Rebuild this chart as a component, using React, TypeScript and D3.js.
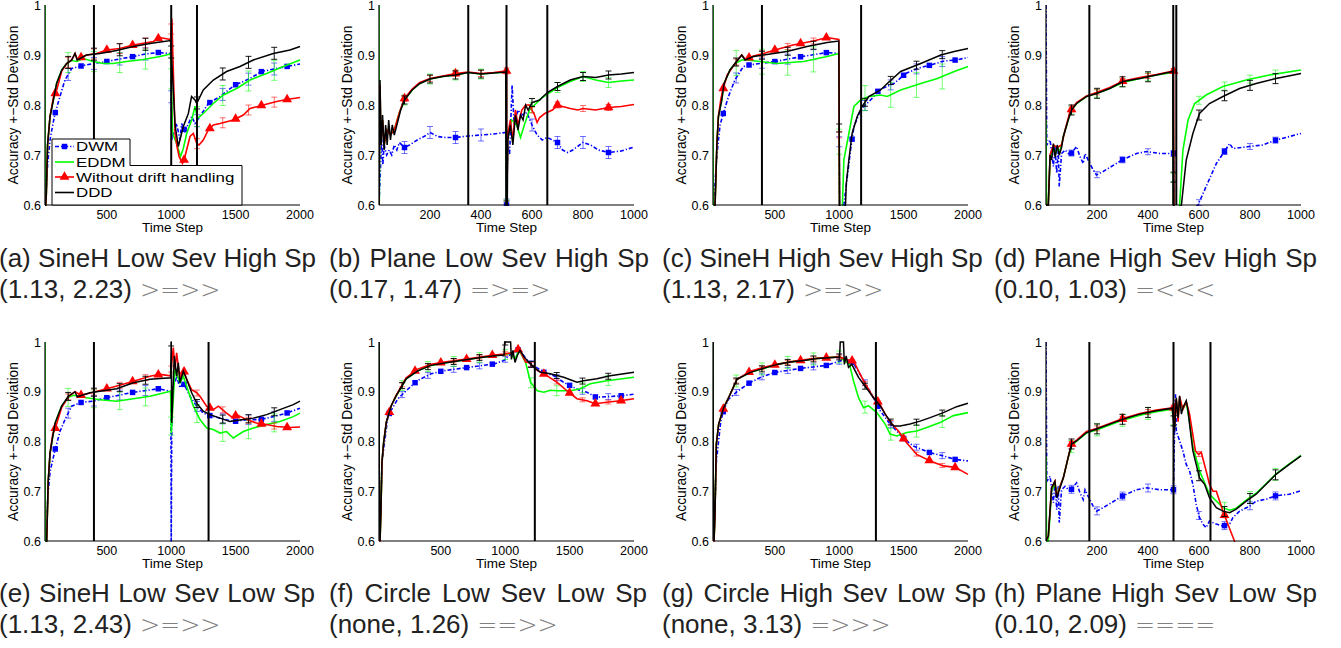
import * as d3 from 'd3';
import React, { useEffect, useRef } from 'react';

type Pt = [number, number];

// legend / series order: DWM, EDDM, Without drift handling, DDD
const seriesNames = ['DWM', 'EDDM', 'Without drift handling', 'DDD'];
const seriesColors = ['#0000ff', '#00ff00', '#ff0000', '#000000'];

const captions = [
  '(a) SineH Low Sev High Sp', '(b) Plane Low Sev High Sp', '(c) SineH High Sev High Sp', '(d) Plane High Sev High Sp',
  '(e) SineH Low Sev Low Sp', '(f) Circle Low Sev Low Sp', '(g) Circle High Sev Low Sp', '(h) Plane High Sev Low Sp',
];
const stats = ['(1.13, 2.23)', '(0.17, 1.47)', '(1.13, 2.17)', '(0.10, 1.03)', '(1.13, 2.43)', '(none, 1.26)', '(none, 3.13)', '(0.10, 2.09)'];
const ranks = ['>=>>', '=>=>', '>=>>', '=<<<', '>=>>', '==>>', '=>>>', '===='];
const stepMax = [2000, 1000, 2000, 1000, 2000, 2000, 2000, 1000];
const yTicks = [0.6, 0.7, 0.8, 0.9, 1];

// drift detections (vertical lines)
const driftLines = [
  [400, 1000, 1200], [350, 500, 660], [400, 1170], [170, 499, 511],
  [400, 1290], [1230], [1285], [170, 500, 645],
];

// std deviation half widths per panel: DWM, EDDM, Without, DDD
const stdA = [0.012, 0.02, 0.01, 0.012];
const stdB = [0.012, 0.01, 0.006, 0.008];
const stdC = [0.01, 0.025, 0.006, 0.008];
const stdD = [0.006, 0.008, 0.005, 0.01];
const stdE = [0.01, 0.018, 0.006, 0.008];
const stdF = [0.006, 0.01, 0.004, 0.006];
const stdG = [0.006, 0.012, 0.004, 0.006];
const stdH = [0.008, 0.012, 0.005, 0.01];

// (a) SineH Low Sev High Sp
const dwmA: Pt[] = [[22,0.6],[40,0.68],[59,0.73],[80,0.76],[98,0.783],[136,0.817],[175,0.85],[227,0.873],[300,0.878],[395,0.883],[499,0.887],[600,0.892],[706,0.897],[800,0.902],[900,0.905],[995,0.903],[1005,0.73],[1042,0.763],[1068,0.73],[1081,0.763],[1107,0.747],[1159,0.777],[1185,0.763],[1223,0.777],[1288,0.803],[1379,0.817],[1495,0.84],[1612,0.853],[1702,0.867],[1800,0.872],[1896,0.877],[2000,0.882]];
const eddmA: Pt[] = [[20,1.0],[21,0.58],[30,0.62],[40,0.72],[59,0.777],[85,0.81],[110,0.843],[150,0.87],[188,0.883],[227,0.889],[266,0.887],[318,0.893],[395,0.887],[473,0.883],[550,0.883],[654,0.887],[783,0.891],[913,0.897],[995,0.902],[1011,0.743],[1042,0.723],[1073,0.697],[1094,0.713],[1120,0.743],[1159,0.77],[1185,0.797],[1203,0.773],[1249,0.783],[1327,0.803],[1405,0.82],[1508,0.833],[1612,0.85],[1741,0.863],[1870,0.877],[2000,0.89]];
const nodA: Pt[] = [[20,0.58],[30,0.62],[40,0.72],[59,0.777],[85,0.815],[110,0.829],[150,0.868],[188,0.883],[227,0.89],[253,0.903],[270,0.892],[343,0.9],[421,0.903],[499,0.91],[600,0.913],[706,0.92],[861,0.927],[913,0.935],[995,0.931],[1005,0.973],[1030,0.743],[1045,0.717],[1061,0.697],[1087,0.683],[1100,0.69],[1146,0.737],[1172,0.743],[1198,0.723],[1216,0.72],[1249,0.73],[1288,0.75],[1327,0.76],[1379,0.763],[1482,0.77],[1560,0.78],[1612,0.793],[1715,0.8],[1819,0.807],[1896,0.811],[2000,0.815]];
const dddA: Pt[] = [[20,0.58],[30,0.62],[40,0.72],[59,0.777],[85,0.81],[110,0.843],[150,0.87],[188,0.883],[227,0.89],[253,0.903],[270,0.89],[343,0.9],[447,0.903],[576,0.909],[706,0.917],[835,0.923],[995,0.929],[1010,0.86],[1030,0.76],[1055,0.717],[1094,0.757],[1133,0.783],[1158,0.817],[1185,0.81],[1198,0.803],[1249,0.83],[1327,0.85],[1430,0.867],[1534,0.877],[1637,0.89],[1793,0.903],[1922,0.91],[2000,0.917]];

// (b) Plane Low Sev High Sp
const dwmB: Pt[] = [[0,0.6],[5,0.66],[10,0.74],[15,0.68],[20,0.72],[30,0.7],[40,0.71],[50,0.7],[60,0.72],[70,0.71],[80,0.725],[100,0.715],[120,0.72],[150,0.73],[180,0.738],[200,0.745],[230,0.737],[260,0.735],[300,0.735],[350,0.738],[400,0.74],[450,0.742],[497,0.745],[500,0.6],[505,0.72],[512,0.7],[522,0.84],[530,0.76],[545,0.79],[560,0.78],[580,0.785],[600,0.76],[620,0.74],[640,0.73],[660,0.735],[680,0.73],[700,0.725],[720,0.71],[740,0.705],[760,0.71],[800,0.725],[830,0.72],[860,0.71],[900,0.705],[950,0.708],[1000,0.716]];
const eddmB: Pt[] = [[0,1.0],[1,0.6],[4,0.83],[8,0.72],[14,0.77],[20,0.72],[30,0.75],[45,0.74],[60,0.75],[80,0.785],[100,0.81],[130,0.83],[160,0.843],[200,0.852],[250,0.857],[300,0.86],[350,0.865],[400,0.862],[450,0.864],[497,0.866],[500,0.6],[505,0.74],[520,0.77],[540,0.76],[555,0.735],[570,0.76],[590,0.79],[610,0.8],[640,0.815],[670,0.825],[700,0.835],[750,0.847],[800,0.857],[850,0.85],[900,0.845],[950,0.848],[1000,0.85]];
const nodB: Pt[] = [[0,0.6],[4,0.84],[8,0.72],[14,0.77],[20,0.72],[30,0.75],[45,0.74],[60,0.75],[80,0.785],[100,0.813],[130,0.832],[160,0.845],[200,0.853],[250,0.858],[300,0.863],[350,0.866],[400,0.863],[450,0.865],[500,0.868],[501,0.6],[505,0.74],[515,0.77],[525,0.73],[535,0.79],[545,0.76],[560,0.79],[575,0.8],[590,0.8],[600,0.79],[610,0.78],[620,0.765],[630,0.775],[650,0.783],[680,0.79],[700,0.8],[720,0.797],[750,0.793],[780,0.79],[800,0.793],[850,0.79],[900,0.795],[950,0.797],[1000,0.801]];
const dddB: Pt[] = [[0,0.6],[4,0.85],[8,0.72],[14,0.78],[20,0.71],[26,0.76],[32,0.72],[38,0.77],[45,0.73],[52,0.76],[60,0.74],[70,0.76],[85,0.79],[100,0.81],[130,0.83],[160,0.843],[200,0.852],[250,0.857],[300,0.86],[350,0.865],[400,0.862],[450,0.864],[497,0.866],[499,0.6],[503,0.6],[505,0.73],[515,0.76],[525,0.72],[535,0.78],[545,0.75],[555,0.78],[565,0.77],[575,0.8],[585,0.79],[600,0.805],[630,0.81],[660,0.825],[700,0.837],[750,0.85],[800,0.857],[850,0.855],[900,0.86],[950,0.862],[1000,0.865]];

// (c) SineH High Sev High Sp
const dwmC: Pt[] = [[25,0.6],[50,0.7],[75,0.76],[100,0.783],[140,0.817],[190,0.85],[256,0.877],[300,0.88],[386,0.883],[503,0.887],[711,0.897],[906,0.905],[997,0.903],[1003,0.55],[1036,0.6],[1088,0.71],[1114,0.757],[1166,0.79],[1269,0.817],[1308,0.83],[1425,0.843],[1516,0.863],[1607,0.873],[1711,0.88],[1815,0.888],[1906,0.89],[2000,0.895]];
const eddmC: Pt[] = [[20,1.0],[21,0.58],[36,0.6],[50,0.72],[62,0.777],[88,0.81],[106,0.843],[152,0.87],[191,0.883],[243,0.89],[282,0.89],[386,0.887],[516,0.883],[724,0.887],[906,0.897],[997,0.903],[1003,0.55],[1025,0.6],[1036,0.69],[1075,0.743],[1114,0.797],[1166,0.81],[1230,0.817],[1321,0.82],[1373,0.817],[1477,0.83],[1633,0.843],[1763,0.853],[1893,0.867],[2000,0.877]];
const nodC: Pt[] = [[20,0.58],[36,0.6],[50,0.72],[62,0.777],[80,0.81],[95,0.829],[130,0.86],[191,0.883],[243,0.9],[269,0.892],[334,0.898],[412,0.903],[500,0.91],[640,0.92],[800,0.928],[906,0.935],[997,0.931],[1003,0.55]];
const dddC: Pt[] = [[20,0.58],[36,0.6],[50,0.72],[62,0.777],[88,0.81],[106,0.843],[152,0.87],[191,0.883],[243,0.9],[269,0.89],[334,0.897],[412,0.9],[594,0.907],[750,0.917],[906,0.925],[997,0.928],[1003,0.58],[1049,0.6],[1055,0.643],[1075,0.69],[1100,0.743],[1140,0.777],[1178,0.797],[1230,0.817],[1321,0.83],[1373,0.843],[1477,0.867],[1633,0.883],[1789,0.9],[1893,0.907],[2000,0.913]];

// (d) Plane High Sev High Sp
const dwmD: Pt[] = [[0,1.0],[3,0.72],[16,0.73],[29,0.677],[35,0.717],[42,0.663],[48,0.71],[52,0.637],[61,0.703],[75,0.71],[94,0.7],[120,0.717],[133,0.697],[146,0.683],[153,0.703],[172,0.683],[185,0.67],[198,0.66],[224,0.667],[276,0.683],[302,0.691],[355,0.703],[394,0.707],[446,0.703],[500,0.703],[502,0.55],[596,0.6],[628,0.637],[668,0.683],[700,0.707],[720,0.723],[733,0.713],[798,0.717],[850,0.72],[902,0.73],[1000,0.743]];
const eddmD: Pt[] = [[0,0.77],[2,0.6],[9,0.6],[16,0.69],[22,0.7],[29,0.715],[36,0.7],[44,0.715],[52,0.705],[61,0.72],[68,0.737],[87,0.77],[100,0.79],[120,0.803],[159,0.817],[198,0.823],[250,0.833],[302,0.845],[368,0.853],[433,0.86],[498,0.865],[501,0.55],[524,0.6],[537,0.71],[557,0.77],[583,0.803],[628,0.82],[694,0.837],[785,0.85],[876,0.86],[1000,0.87]];
const nodD: Pt[] = [[0,0.6],[9,0.6],[16,0.7],[29,0.72],[44,0.715],[61,0.72],[75,0.75],[94,0.787],[120,0.805],[159,0.818],[198,0.825],[250,0.835],[302,0.848],[368,0.855],[433,0.861],[500,0.868],[502,0.55]];
const dddD: Pt[] = [[0,0.6],[9,0.6],[16,0.7],[22,0.69],[29,0.723],[36,0.695],[44,0.72],[52,0.7],[61,0.715],[68,0.737],[87,0.77],[100,0.79],[120,0.803],[159,0.817],[198,0.823],[250,0.833],[302,0.847],[368,0.853],[433,0.86],[498,0.867],[501,0.55],[531,0.6],[550,0.69],[576,0.743],[602,0.783],[641,0.803],[694,0.817],[759,0.833],[824,0.843],[902,0.853],[1000,0.863]];

// (e) SineH Low Sev Low Sp
const dwmE: Pt[] = [[25,0.6],[45,0.7],[60,0.74],[98,0.783],[136,0.82],[175,0.844],[227,0.871],[305,0.879],[395,0.881],[499,0.888],[706,0.899],[900,0.906],[997,0.901],[1000,0.58],[1006,0.91],[1029,0.918],[1042,0.931],[1068,0.908],[1094,0.918],[1146,0.891],[1198,0.871],[1249,0.857],[1301,0.852],[1379,0.847],[1482,0.84],[1586,0.844],[1689,0.844],[1793,0.85],[1896,0.857],[2000,0.867]];
const eddmE: Pt[] = [[20,1.0],[21,0.58],[33,0.6],[45,0.72],[59,0.776],[80,0.81],[98,0.837],[149,0.871],[201,0.889],[240,0.893],[343,0.888],[447,0.884],[576,0.881],[835,0.891],[995,0.901],[1001,0.817],[1029,0.945],[1068,0.918],[1094,0.931],[1133,0.901],[1172,0.871],[1223,0.844],[1275,0.827],[1327,0.824],[1379,0.817],[1430,0.82],[1482,0.807],[1560,0.82],[1637,0.827],[1741,0.834],[1844,0.84],[1948,0.85],[2000,0.857]];
const nodE: Pt[] = [[20,0.58],[33,0.6],[45,0.72],[59,0.776],[80,0.815],[98,0.825],[149,0.868],[201,0.89],[253,0.9],[300,0.893],[395,0.899],[499,0.906],[600,0.913],[706,0.921],[835,0.931],[913,0.935],[995,0.932],[1016,0.989],[1029,0.945],[1042,0.978],[1068,0.925],[1094,0.945],[1120,0.925],[1159,0.904],[1198,0.898],[1223,0.891],[1275,0.871],[1327,0.864],[1366,0.871],[1430,0.857],[1482,0.847],[1508,0.854],[1586,0.844],[1663,0.837],[1741,0.834],[1819,0.83],[1922,0.828],[2000,0.829]];
const dddE: Pt[] = [[20,0.58],[33,0.6],[45,0.72],[59,0.776],[80,0.81],[98,0.837],[149,0.871],[201,0.891],[253,0.9],[270,0.89],[369,0.898],[499,0.903],[576,0.906],[706,0.918],[835,0.925],[995,0.928],[1000,1.0],[1004,0.837],[1024,0.972],[1042,0.931],[1055,0.958],[1068,0.918],[1094,0.941],[1120,0.925],[1159,0.898],[1198,0.877],[1249,0.861],[1301,0.854],[1379,0.847],[1456,0.84],[1560,0.844],[1637,0.847],[1741,0.854],[1844,0.864],[1948,0.874],[2000,0.881]];

// (f) Circle Low Sev Low Sp
const dwmF: Pt[] = [[20,0.624],[28,0.624],[43,0.758],[90,0.852],[120,0.865],[167,0.886],[231,0.902],[316,0.922],[424,0.936],[514,0.942],[713,0.949],[914,0.956],[991,0.963],[1055,0.979],[1107,0.985],[1184,0.959],[1300,0.939],[1377,0.932],[1454,0.919],[1506,0.912],[1583,0.902],[1635,0.899],[1704,0.889],[1789,0.89],[1905,0.892],[2000,0.895]];
const eddmF: Pt[] = [[20,1.0],[22,0.73],[28,0.6],[35,0.66],[43,0.758],[56,0.798],[77,0.839],[115,0.872],[154,0.892],[231,0.926],[321,0.942],[424,0.953],[553,0.959],[682,0.964],[811,0.969],[939,0.973],[991,0.974],[1042,0.978],[1076,0.965],[1107,0.984],[1158,0.959],[1197,0.919],[1249,0.902],[1300,0.899],[1350,0.903],[1403,0.902],[1506,0.902],[1583,0.906],[1660,0.916],[1789,0.922],[2000,0.929]];
const nodF: Pt[] = [[20,0.6],[28,0.6],[35,0.66],[43,0.758],[56,0.798],[77,0.839],[115,0.872],[154,0.893],[231,0.928],[316,0.945],[424,0.955],[514,0.959],[713,0.966],[914,0.974],[991,0.976],[1050,0.978],[1107,0.986],[1158,0.96],[1184,0.959],[1249,0.943],[1326,0.932],[1403,0.919],[1493,0.899],[1557,0.886],[1635,0.882],[1699,0.876],[1789,0.879],[1892,0.882],[2000,0.886]];
const dddF: Pt[] = [[20,1.0],[22,0.73],[28,0.6],[35,0.66],[43,0.758],[56,0.798],[77,0.839],[115,0.872],[154,0.892],[231,0.926],[321,0.942],[424,0.953],[553,0.959],[682,0.964],[811,0.969],[939,0.973],[991,0.974],[996,1.0],[1042,1.0],[1048,0.965],[1060,0.983],[1076,0.959],[1094,0.973],[1115,0.983],[1133,0.976],[1146,0.97],[1184,0.959],[1223,0.949],[1274,0.939],[1351,0.936],[1454,0.929],[1557,0.919],[1609,0.922],[1712,0.926],[1815,0.932],[2000,0.939]];

// (g) Circle High Sev Low Sp
const dwmG: Pt[] = [[20,0.61],[28,0.61],[46,0.76],[80,0.84],[103,0.863],[141,0.885],[206,0.9],[304,0.918],[400,0.93],[503,0.939],[703,0.947],[903,0.953],[1008,0.962],[1060,0.962],[1106,0.959],[1176,0.929],[1266,0.888],[1318,0.862],[1395,0.835],[1447,0.821],[1504,0.805],[1576,0.791],[1700,0.778],[1809,0.771],[1900,0.764],[2000,0.761]];
const eddmG: Pt[] = [[20,1.0],[22,0.73],[28,0.6],[35,0.65],[46,0.795],[64,0.835],[103,0.868],[141,0.888],[206,0.925],[310,0.939],[413,0.947],[516,0.955],[620,0.96],[723,0.963],[827,0.967],[1003,0.97],[1054,0.96],[1080,0.955],[1111,0.922],[1150,0.888],[1189,0.868],[1227,0.872],[1292,0.858],[1357,0.835],[1395,0.815],[1447,0.811],[1525,0.818],[1602,0.821],[1680,0.828],[1783,0.838],[1887,0.852],[2000,0.858]];
const nodG: Pt[] = [[20,0.6],[28,0.6],[35,0.65],[46,0.795],[64,0.835],[103,0.868],[141,0.888],[206,0.925],[310,0.941],[413,0.949],[516,0.955],[620,0.96],[723,0.964],[827,0.967],[1003,0.97],[1054,0.965],[1111,0.962],[1189,0.922],[1266,0.888],[1310,0.878],[1357,0.855],[1408,0.835],[1460,0.821],[1512,0.801],[1602,0.774],[1706,0.761],[1809,0.751],[1900,0.748],[2000,0.734]];
const dddG: Pt[] = [[20,1.0],[22,0.73],[28,0.6],[35,0.65],[46,0.795],[64,0.835],[103,0.868],[141,0.888],[206,0.925],[310,0.939],[413,0.947],[516,0.955],[620,0.96],[723,0.963],[827,0.967],[1003,0.97],[1008,1.0],[1033,1.0],[1040,0.955],[1054,0.972],[1072,0.949],[1098,0.955],[1124,0.942],[1150,0.929],[1189,0.915],[1227,0.902],[1266,0.888],[1318,0.872],[1357,0.855],[1395,0.841],[1421,0.831],[1473,0.831],[1550,0.835],[1628,0.841],[1706,0.848],[1809,0.858],[1912,0.87],[2000,0.877]];

// (h) Plane High Sev Low Sp
const dwmH: Pt[] = [[0,1.0],[3,0.72],[16,0.73],[29,0.677],[35,0.717],[42,0.663],[48,0.71],[52,0.637],[61,0.703],[75,0.71],[94,0.7],[120,0.717],[133,0.697],[146,0.683],[153,0.703],[172,0.683],[185,0.67],[198,0.66],[224,0.667],[276,0.683],[302,0.691],[355,0.703],[394,0.707],[446,0.703],[500,0.703],[504,0.82],[508,0.895],[511,0.821],[524,0.801],[537,0.781],[550,0.754],[563,0.741],[576,0.714],[589,0.674],[602,0.647],[615,0.634],[628,0.627],[641,0.64],[668,0.634],[694,0.63],[720,0.634],[733,0.647],[759,0.66],[798,0.67],[824,0.68],[863,0.684],[902,0.691],[954,0.694],[1000,0.701]];
const eddmH: Pt[] = [[0,0.77],[2,0.6],[9,0.6],[22,0.7],[35,0.715],[42,0.695],[55,0.71],[68,0.727],[87,0.768],[100,0.79],[120,0.801],[159,0.817],[198,0.823],[250,0.833],[302,0.843],[368,0.853],[433,0.86],[495,0.865],[504,0.83],[511,0.88],[518,0.85],[524,0.885],[537,0.865],[550,0.878],[563,0.84],[576,0.79],[602,0.741],[641,0.694],[694,0.667],[720,0.662],[746,0.666],[785,0.682],[824,0.696],[863,0.715],[902,0.735],[954,0.755],[1000,0.772]];
const nodH: Pt[] = [[0,0.6],[9,0.61],[22,0.707],[35,0.72],[42,0.69],[55,0.71],[68,0.727],[87,0.768],[100,0.795],[120,0.803],[159,0.82],[198,0.826],[250,0.836],[302,0.846],[368,0.856],[433,0.863],[500,0.868],[504,0.83],[511,0.885],[518,0.84],[524,0.89],[537,0.865],[550,0.88],[563,0.855],[586,0.781],[598,0.774],[609,0.778],[628,0.741],[641,0.714],[655,0.7],[668,0.7],[681,0.68],[694,0.66],[713,0.634],[739,0.6],[760,0.57]];
const dddH: Pt[] = [[0,0.6],[9,0.61],[22,0.707],[35,0.72],[42,0.687],[55,0.707],[68,0.727],[87,0.768],[100,0.795],[120,0.801],[159,0.818],[198,0.825],[250,0.835],[302,0.845],[368,0.855],[433,0.862],[495,0.867],[504,0.821],[511,0.888],[518,0.848],[524,0.892],[531,0.855],[537,0.868],[550,0.882],[557,0.862],[563,0.835],[576,0.781],[589,0.754],[602,0.727],[622,0.714],[641,0.687],[668,0.667],[694,0.66],[720,0.657],[746,0.664],[785,0.68],[824,0.694],[863,0.714],[902,0.734],[954,0.754],[1000,0.771]];

const panelSeries: Pt[][][] = [
  [dwmA, eddmA, nodA, dddA], [dwmB, eddmB, nodB, dddB], [dwmC, eddmC, nodC, dddC], [dwmD, eddmD, nodD, dddD],
  [dwmE, eddmE, nodE, dddE], [dwmF, eddmF, nodF, dddF], [dwmG, eddmG, nodG, dddG], [dwmH, eddmH, nodH, dddH],
];
const panelStd = [stdA, stdB, stdC, stdD, stdE, stdF, stdG, stdH];

// layout
const W = 1341, H = 648;
const colLeft = [45, 379, 713, 1046];
const rowTop = [5, 342];
const plotW = 255;
const plotH = [200, 199];
const capX = [-1, 329, 662, 994];
const capWidth = [317, 320, 320, 323, 316, 318, 324, 323];
const font = 'Liberation Sans, Arial, Helvetica, sans-serif';

// linear interpolation along a series, null outside it
function valueAt(pts: Pt[], t: number): number | null {
  if (t < pts[0][0] || t > pts[pts.length - 1][0]) return null;
  const i = d3.bisector((d: Pt) => d[0]).left(pts, t);
  if (pts[i][0] === t) return pts[i][1];
  const a = pts[i - 1], b = pts[i];
  return a[1] + (b[1] - a[1]) * (t - a[0]) / (b[0] - a[0]);
}

const square = d3.symbol(d3.symbolSquare, 30)()!;
const triangle = d3.symbol(d3.symbolTriangle, 42)()!;

function Panel({ idx }: { idx: number }) {
  const col = idx % 4, row = Math.floor(idx / 4);
  const left = colLeft[col], top = rowTop[row], h = plotH[row];
  const maxT = stepMax[idx];
  const minT = maxT === 2000 ? 20 : 0;
  const x = d3.scaleLinear().domain([minT, maxT]).range([left, left + plotW]);
  const y = d3.scaleLinear().domain([0.6, 1]).range([top + h, top]);
  const xTicks = maxT === 2000 ? [500, 1000, 1500, 2000] : [200, 400, 600, 800, 1000];
  const line = d3.line<Pt>().x(d => x(d[0])).y(d => y(d[1]));
  const markerSteps = d3.range(100, maxT, 200);
  const errSteps = d3.range(1, 10).map(k => k * maxT / 10);
  const series = panelSeries[idx];
  const std = panelStd[idx];
  const clipId = `clip-${idx}`;
  const bottom = top + h;

  return (
    <g>
      <defs>
        <clipPath id={clipId}>
          <rect x={left} y={top - 1} width={plotW + 1} height={h + 2} />
        </clipPath>
      </defs>
      <g clipPath={`url(#${clipId})`}>
        {series.map((pts, s) => (
          <g key={s}>
            <path d={line(pts) || ''} fill="none" stroke={seriesColors[s]}
              strokeWidth={s === 3 ? 1.5 : 1.6}
              strokeDasharray={s === 0 ? '4,2,1.2,2' : undefined} />
            {errSteps.map(t => {
              const v = valueAt(pts, t);
              if (v === null) return null;
              const e = std[s];
              return (
                <path key={t} d={`M${x(t) - 3},${y(v - e)}H${x(t) + 3}M${x(t)},${y(v - e)}V${y(v + e)}M${x(t) - 3},${y(v + e)}H${x(t) + 3}`}
                  stroke={seriesColors[s]} strokeOpacity={s === 3 ? 0.9 : 0.55} strokeWidth={1} fill="none" />
              );
            })}
            {(s === 0 || s === 2) && markerSteps.map(t => {
              const v = valueAt(pts, t);
              if (v === null) return null;
              return <path key={t} d={s === 0 ? square : triangle} transform={`translate(${x(t)},${y(v)})`} fill={seriesColors[s]} />;
            })}
          </g>
        ))}
      </g>
      {driftLines[idx].map(t => (
        <line key={t} x1={x(t)} x2={x(t)} y1={top} y2={bottom} stroke="#000" strokeWidth={2} />
      ))}
      <line x1={left} x2={left} y1={top} y2={bottom} stroke="#000" strokeWidth={1.2} />
      <line x1={left} x2={left + plotW} y1={bottom} y2={bottom} stroke="#000" strokeWidth={1.2} />
      {yTicks.map(v => (
        <text key={v} x={left - 4} y={y(v)} dy="0.36em" textAnchor="end" fontSize={12.5} fontFamily={font}>
          {v === 1 ? '1' : v.toFixed(1)}
        </text>
      ))}
      {xTicks.map(t => (
        <text key={t} x={x(t)} y={bottom + 13.5} textAnchor="middle" fontSize={12.5} fontFamily={font}>{t}</text>
      ))}
      <text x={left + plotW / 2} y={bottom + 27} textAnchor="middle" fontSize={13.5} fontFamily={font}>Time Step</text>
      <text transform={`translate(${left - 27},${top + h / 2}) rotate(-90)`} textAnchor="middle" fontSize={13.8} fontFamily={font}>
        Accuracy +−Std Deviation
      </text>
      {idx === 0 && <Legend />}
      <text className="cap1" data-w={capWidth[idx]} x={capX[col]} y={row === 0 ? 267 : 602} fontSize={26} fontFamily={font} fill="#222">
        {captions[idx]}
      </text>
      <text x={capX[col]} y={row === 0 ? 298 : 633} fontSize={26} fontFamily={font} fill="#222">
        {stats[idx]}
        <tspan dx={8} fill="#808080" fontFamily="DejaVu Sans, sans-serif" fontWeight={200} fontSize={24}>{ranks[idx]}</tspan>
      </text>
    </g>
  );
}

function Legend() {
  const rowsY = [146.5, 162, 177, 192.5];
  return (
    <g>
      <path d="M52,205V139H130V165.5H242V205Z" fill="#fff" stroke="#000" strokeWidth={1} />
      {seriesNames.map((name, s) => (
        <g key={name}>
          <line x1={55} x2={74} y1={rowsY[s]} y2={rowsY[s]} stroke={seriesColors[s]} strokeWidth={1.6}
            strokeDasharray={s === 0 ? '4,2,1.2,2' : undefined} />
          {s === 0 && <path d={square} transform={`translate(64.5,${rowsY[s]})`} fill={seriesColors[s]} />}
          {s === 2 && <path d={triangle} transform={`translate(64.5,${rowsY[s]})`} fill={seriesColors[s]} />}
          <text transform={`translate(76,${rowsY[s]}) scale(1.25,1)`} dy="0.36em" fontSize={13.5} fontFamily={font}>{name}</text>
        </g>
      ))}
    </g>
  );
}

export default function App() {
  const svgRef = useRef<SVGSVGElement>(null);

  // captions are justified to a common width by widening word spaces
  useEffect(() => {
    d3.select(svgRef.current).selectAll<SVGTextElement, unknown>('text.cap1').each(function () {
      const target = +(this.getAttribute('data-w') || 0);
      const natural = this.getComputedTextLength();
      const spaces = ((this.textContent || '').match(/ /g) || []).length;
      if (spaces > 0 && target > natural) d3.select(this).attr('word-spacing', (target - natural) / spaces);
    });
  }, []);

  return (
    <div style={{ position: 'absolute', left: 0, top: 0 }}>
      <svg ref={svgRef} width={W} height={H} style={{ display: 'block', background: '#fff' }}>
        {d3.range(8).map(i => <Panel key={i} idx={i} />)}
      </svg>
    </div>
  );
}
